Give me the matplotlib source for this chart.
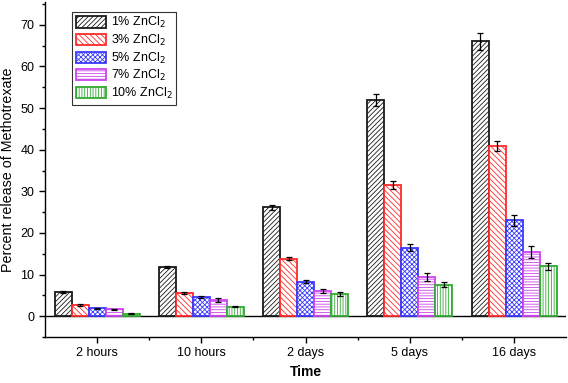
import matplotlib
matplotlib.use("Agg")
import matplotlib.pyplot as plt
import numpy as np
from matplotlib.ticker import MultipleLocator, FixedLocator

plt.rcParams["font.family"] = ["Liberation Sans", "DejaVu Sans"]
plt.rcParams["hatch.linewidth"] = 0.6

# 数据
categories = ["2 hours", "10 hours", "2 days", "5 days", "16 days"]
series_names = ["1% ZnCl$_2$", "3% ZnCl$_2$", "5% ZnCl$_2$", "7% ZnCl$_2$", "10% ZnCl$_2$"]
zn1 = [5.8, 11.8, 26.2, 52.0, 66.0]
zn3 = [2.7, 5.5, 13.8, 31.5, 40.8]
zn5 = [1.9, 4.6, 8.3, 16.5, 23.0]
zn7 = [1.7, 3.9, 6.0, 9.4, 15.4]
zn10 = [0.6, 2.3, 5.3, 7.6, 12.0]
err1 = [0.2, 0.3, 0.6, 1.5, 2.0]
err3 = [0.15, 0.2, 0.4, 1.0, 1.2]
err5 = [0.15, 0.3, 0.4, 0.9, 1.3]
err7 = [0.15, 0.5, 0.5, 0.9, 1.4]
err10 = [0.15, 0.2, 0.4, 0.7, 0.9]

values = [zn1, zn3, zn5, zn7, zn10]
errors = [err1, err3, err5, err7, err10]
colors = ["#1a1a1a", "#ff2a2a", "#3a3aff", "#cc44ee", "#33aa33"]
hatches = ["///////", "\\\\\\\\\\\\", "xxxxxxx", "------", "||||||"]

fig = plt.figure(figsize=(5.68, 3.83), dpi=100)
ax = fig.add_axes([0.079, 0.12, 0.918, 0.875])

x = np.arange(len(categories))
width = 0.163
for i, (vals, errs) in enumerate(zip(values, errors)):
    pos = x + (i - 2) * width
    ax.bar(pos, vals, width, facecolor="white", edgecolor=colors[i],
           hatch=hatches[i], linewidth=1.3, label=series_names[i], zorder=2)
    ax.errorbar(pos, vals, yerr=errs, fmt="none", ecolor="black",
                elinewidth=0.9, capsize=2.5, capthick=0.9, zorder=3)

ax.axhline(0, color="black", linewidth=1.0, zorder=1)

ax.set_xlim(-0.5, 4.5)
ax.set_ylim(-5, 75.5)
ax.set_xticks(x)
ax.set_xticklabels(categories, fontsize=9)
ax.xaxis.set_minor_locator(FixedLocator(x[:-1] + 0.5))
ax.yaxis.set_major_locator(FixedLocator([0, 10, 20, 30, 40, 50, 60, 70]))
ax.yaxis.set_minor_locator(MultipleLocator(5))
ax.tick_params(axis="y", labelsize=9)
ax.tick_params(which="major", direction="out", length=4, width=1)
ax.tick_params(which="minor", direction="out", length=2.5, width=1)

for s in ["top", "right"]:
    ax.spines[s].set_visible(False)
ax.spines["left"].set_linewidth(1.0)
ax.spines["bottom"].set_linewidth(1.0)

ax.set_xlabel("Time", fontsize=10, fontweight="bold")
ax.set_ylabel("Percent release of Methotrexate", fontsize=10.3)

leg = ax.legend(loc="upper left", bbox_to_anchor=(0.04, 0.99), fontsize=9,
                frameon=True, fancybox=False, edgecolor="black",
                handlelength=2.4, handleheight=1.0, labelspacing=0.2,
                borderpad=0.3, handletextpad=0.4)
leg.get_frame().set_linewidth(0.8)

fig.savefig("out.png", dpi=100)
